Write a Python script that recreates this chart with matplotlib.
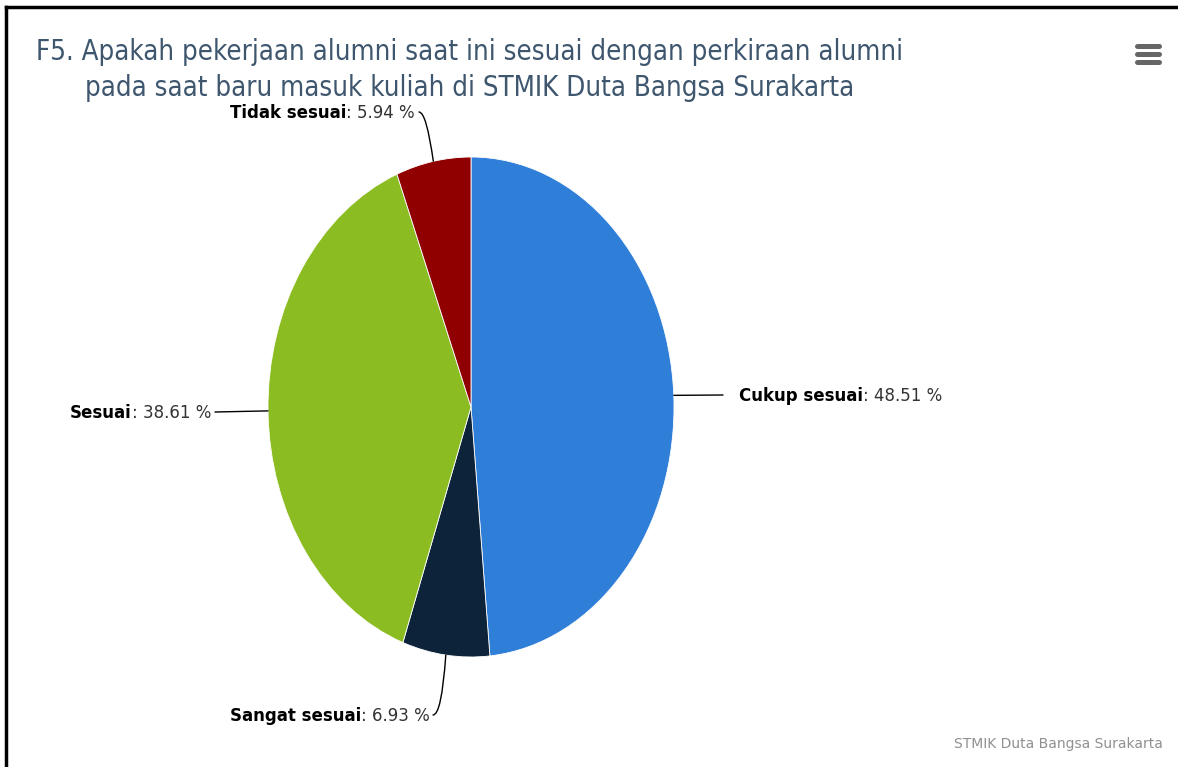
import numpy as np
import matplotlib
matplotlib.use("Agg")
import matplotlib.pyplot as plt
from matplotlib.offsetbox import TextArea, HPacker, AnnotationBbox
from matplotlib.lines import Line2D

# Data
kategori = ["Cukup sesuai", "Sangat sesuai", "Sesuai", "Tidak sesuai"]
persen = [48.51, 6.93, 38.61, 5.94]
warna = ["#2f7ed8", "#0d233a", "#8bbc21", "#910000"]
judul = ("F5. Apakah pekerjaan alumni saat ini sesuai dengan perkiraan alumni\n"
         "pada saat baru masuk kuliah di STMIK Duta Bangsa Surakarta")
kredit = "STMIK Duta Bangsa Surakarta"

W, H = 1178, 767
fig = plt.figure(figsize=(W / 100, H / 100), dpi=100)
fig.patch.set_facecolor("white")

# pie area (elliptical, like the screenshot)
ax = fig.add_axes([268 / W, (H - 657) / H, 406 / W, 500 / H])
ax.pie(persen, colors=warna, startangle=90, counterclock=False,
       wedgeprops=dict(edgecolor="white", linewidth=0.6))
ax.set_aspect("auto")
ax.set_xlim(-1, 1)
ax.set_ylim(-1, 1)
ax.axis("off")

# posisi label, ujung konektor (figure pixels) dan gaya konektor
posisi_label = {
    "Cukup sesuai": ((739, 371), (0, 0.5), (723, 372), "arc3,rad=0"),
    "Sangat sesuai": ((430, 51), (1, 0.5), (433, 52), "angle3,angleA=0,angleB=86"),
    "Sesuai": ((211, 354), (1, 0.5), (215, 355), "arc3,rad=0"),
    "Tidak sesuai": ((415, 654), (1, 0.5), (419, 655), "angle3,angleA=0,angleB=-82"),
}

fnt = dict(family="DejaVu Sans", size=12)
total = sum(persen)
mulai = 90.0
for nama, nilai in zip(kategori, persen):
    sudut = mulai - 360 * nilai / total / 2
    mulai -= 360 * nilai / total
    xy = (np.cos(np.radians(sudut)), np.sin(np.radians(sudut)))
    teks = HPacker(children=[
        TextArea(nama, textprops=dict(color="black", weight="bold", **fnt)),
        TextArea(": %.2f %%" % nilai, textprops=dict(color="#333333", **fnt)),
    ], align="baseline", pad=0, sep=0)
    pos, align, ujung, gaya = posisi_label[nama]
    ab = AnnotationBbox(teks, pos, xycoords="figure pixels",
                        box_alignment=align, frameon=False, pad=0,
                        annotation_clip=False)
    ax.add_artist(ab)
    ax.annotate("", xy=xy, xycoords="data", xytext=ujung,
                textcoords="figure pixels", annotation_clip=False,
                arrowprops=dict(arrowstyle="-", color="#000000", lw=1,
                                connectionstyle=gaya, shrinkA=0, shrinkB=0))

# judul
fig.text(470 / W, (H - 70) / H, judul, ha="center", va="center",
         color="#3e576f", family="DejaVu Sans", stretch="condensed",
         size=19.8, linespacing=1.4)

# kredit
fig.text(1163 / W, (H - 744) / H, kredit, ha="right", va="center",
         color="#909090", family="DejaVu Sans", size=10)

# ikon menu
for yy in (46, 54, 62):
    fig.add_artist(Line2D([1137 / W, 1159 / W], [(H - yy) / H] * 2,
                          color="#666666", lw=3.6, solid_capstyle="round"))

# bingkai atas dan kiri
fig.add_artist(Line2D([6 / W, 1], [(H - 7) / H] * 2, color="black", lw=2.5))
fig.add_artist(Line2D([6 / W, 6 / W], [0, (H - 7) / H], color="black", lw=2.5))

fig.savefig("out.png", dpi=100, facecolor="white")
